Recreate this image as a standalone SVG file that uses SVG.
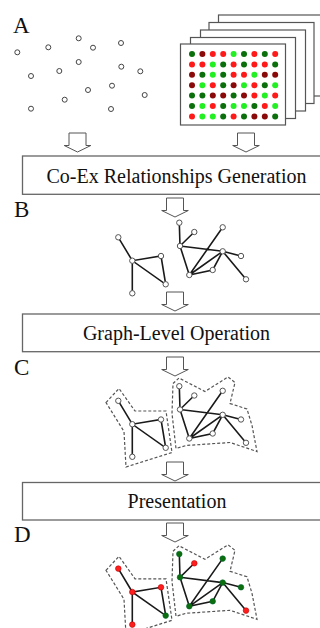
<svg xmlns="http://www.w3.org/2000/svg" xmlns:xlink="http://www.w3.org/1999/xlink" width="320" height="628" viewBox="0 0 320 628">
  <style>
    .label { font-family: "Liberation Serif", "Times New Roman", serif; font-size: 23px; fill: #111; }
    .boxtext { font-family: "Liberation Serif", "Times New Roman", serif; font-size: 20px; fill: #111; text-anchor: middle; }
    .box { fill: #fff; stroke: #666; stroke-width: 1.3; }
    .sheet { fill: #fff; stroke: #555; stroke-width: 1.2; }
    .gene { fill: #fff; stroke: #444; stroke-width: 1; }
    .arrow { fill: #fff; stroke: #555; stroke-width: 1; }
    .edge { fill: none; stroke: #1a1a1a; stroke-width: 1.6; stroke-linecap: round; }
    .node { fill: #fff; stroke: #555; stroke-width: 1; }
    .hull { fill: none; stroke: #555; stroke-width: 1.2; stroke-dasharray: 3 2; }
    .up { fill: #ff1e1e; stroke: #b00; stroke-width: 0.6; }
    .down { fill: #0c6e0c; stroke: #063; stroke-width: 0.6; }
    .dg { fill: #0b700b; } .dr { fill: #8a0a0a; } .r { fill: #ff1a1a; } .l { fill: #22f022; }
  </style>
  <defs>
    <!-- hollow block arrow, origin at top centre -->
    <path id="arrow" d="M-8.5,0 H8.5 V12.5 H13.3 L0,19 L-13.3,12.5 H-8.5 Z"/>
    <!-- co-expression graph edges -->
    <path id="graph-edges" d="M118.3,237.3 L132.3,260.7 L161,256 L165.7,284.3 L132.3,260.7 L132.3,293.3
      M179.3,222.7 L180,246 L194.3,232 M180,246 L222.7,251.3 M180,246 L189.3,275 L222.7,227.3
      M189.3,275 L222.7,251.3 L212.7,270 L189.3,275 M222.7,251.3 L241,256 M222.7,251.3 L246,279.3"/>
    <g id="graph-nodes">
      <circle cx="118.3" cy="237.3" r="2.7"/><circle cx="132.3" cy="260.7" r="2.7"/>
      <circle cx="161" cy="256" r="2.7"/><circle cx="165.7" cy="284.3" r="2.7"/>
      <circle cx="132.3" cy="293.3" r="2.7"/>
      <circle cx="179.3" cy="222.7" r="2.7"/><circle cx="194.3" cy="232" r="2.7"/>
      <circle cx="222.7" cy="227.3" r="2.7"/><circle cx="180" cy="246" r="2.7"/>
      <circle cx="222.7" cy="251.3" r="2.7"/><circle cx="241" cy="256" r="2.7"/>
      <circle cx="189.3" cy="275" r="2.7"/><circle cx="212.7" cy="270" r="2.7"/>
      <circle cx="246" cy="279.3" r="2.7"/>
    </g>
    <g id="hulls">
      <path d="M106,239 L119,225 L135,247.5 L166,247.5 L172,289 L126,303.5 L124,268 Z"/>
      <path d="M173,220 L179,214.5 L205,228 L228,213.5 L235,219 L230,240 L247,245.5 L252,262 L257,288 L230,279 L186,282 L176,285 L172,250 Z"/>
    </g>
  </defs>

  <!-- section labels -->
  <g id="labels">
    <text class="label" x="13" y="33">A</text>
    <text class="label" x="14" y="217">B</text>
    <text class="label" x="14" y="375">C</text>
    <text class="label" x="14" y="542">D</text>
  </g>

  <!-- genes -->
  <g id="genes" class="gene">
    <circle cx="17.3" cy="52.3" r="2.5"/><circle cx="48.3" cy="47.3" r="2.5"/>
    <circle cx="78.7" cy="38.3" r="2.5"/><circle cx="93" cy="47.7" r="2.5"/>
    <circle cx="121" cy="43" r="2.5"/><circle cx="78.7" cy="62" r="2.5"/>
    <circle cx="31" cy="76" r="2.5"/><circle cx="59.3" cy="71" r="2.5"/>
    <circle cx="121.3" cy="66.7" r="2.5"/><circle cx="140.3" cy="71.3" r="2.5"/>
    <circle cx="88" cy="90" r="2.5"/><circle cx="112" cy="85.7" r="2.5"/>
    <circle cx="64.7" cy="99.7" r="2.5"/><circle cx="144.7" cy="95" r="2.5"/>
    <circle cx="31" cy="108.7" r="2.5"/><circle cx="111" cy="109" r="2.5"/>
  </g>

  <!-- stack of expression arrays -->
  <g id="arrays">
    <rect class="sheet" x="218.5" y="15" width="105" height="81"/>
    <rect class="sheet" x="209" y="22.5" width="105" height="81"/>
    <rect class="sheet" x="200.5" y="30" width="105" height="81"/>
    <rect class="sheet" x="190.5" y="37.5" width="105" height="81"/>
    <rect class="sheet" x="180.5" y="44" width="105" height="81"/>
    <g id="spots">
      <!-- row 1 -->
      <circle class="dg" cx="192" cy="54" r="3"/><circle class="dr" cx="202.4" cy="54" r="3"/><circle class="r" cx="212.8" cy="54" r="3"/><circle class="r" cx="223.2" cy="54" r="3"/><circle class="l" cx="233.6" cy="54" r="3"/><circle class="dg" cx="244" cy="54" r="3"/><circle class="r" cx="254.4" cy="54" r="3"/><circle class="dg" cx="264.8" cy="54" r="3"/><circle class="r" cx="275.2" cy="54" r="3"/>
      <!-- row 2 -->
      <circle class="r" cx="192" cy="64.4" r="3"/><circle class="r" cx="202.4" cy="64.4" r="3"/><circle class="l" cx="212.8" cy="64.4" r="3"/><circle class="dg" cx="223.2" cy="64.4" r="3"/><circle class="r" cx="233.6" cy="64.4" r="3"/><circle class="dg" cx="244" cy="64.4" r="3"/><circle class="r" cx="254.4" cy="64.4" r="3"/><circle class="r" cx="264.8" cy="64.4" r="3"/><circle class="dg" cx="275.2" cy="64.4" r="3"/>
      <!-- row 3 -->
      <circle class="dr" cx="192" cy="74.8" r="3"/><circle class="dg" cx="202.4" cy="74.8" r="3"/><circle class="l" cx="212.8" cy="74.8" r="3"/><circle class="dg" cx="223.2" cy="74.8" r="3"/><circle class="r" cx="233.6" cy="74.8" r="3"/><circle class="r" cx="244" cy="74.8" r="3"/><circle class="l" cx="254.4" cy="74.8" r="3"/><circle class="dr" cx="264.8" cy="74.8" r="3"/><circle class="dr" cx="275.2" cy="74.8" r="3"/>
      <!-- row 4 -->
      <circle class="dr" cx="192" cy="85.2" r="3"/><circle class="l" cx="202.4" cy="85.2" r="3"/><circle class="r" cx="212.8" cy="85.2" r="3"/><circle class="dg" cx="223.2" cy="85.2" r="3"/><circle class="dr" cx="233.6" cy="85.2" r="3"/><circle class="l" cx="244" cy="85.2" r="3"/><circle class="r" cx="254.4" cy="85.2" r="3"/><circle class="dg" cx="264.8" cy="85.2" r="3"/><circle class="l" cx="275.2" cy="85.2" r="3"/>
      <!-- row 5 -->
      <circle class="dg" cx="192" cy="95.6" r="3"/><circle class="dg" cx="202.4" cy="95.6" r="3"/><circle class="dr" cx="212.8" cy="95.6" r="3"/><circle class="dr" cx="223.2" cy="95.6" r="3"/><circle class="dg" cx="233.6" cy="95.6" r="3"/><circle class="dr" cx="244" cy="95.6" r="3"/><circle class="r" cx="254.4" cy="95.6" r="3"/><circle class="l" cx="264.8" cy="95.6" r="3"/><circle class="r" cx="275.2" cy="95.6" r="3"/>
      <!-- row 6 -->
      <circle class="dg" cx="192" cy="106" r="3"/><circle class="l" cx="202.4" cy="106" r="3"/><circle class="r" cx="212.8" cy="106" r="3"/><circle class="dg" cx="223.2" cy="106" r="3"/><circle class="l" cx="233.6" cy="106" r="3"/><circle class="l" cx="244" cy="106" r="3"/><circle class="dg" cx="254.4" cy="106" r="3"/><circle class="r" cx="264.8" cy="106" r="3"/><circle class="l" cx="275.2" cy="106" r="3"/>
      <!-- row 7 -->
      <circle class="r" cx="192" cy="116.4" r="3"/><circle class="l" cx="202.4" cy="116.4" r="3"/><circle class="l" cx="212.8" cy="116.4" r="3"/><circle class="dg" cx="223.2" cy="116.4" r="3"/><circle class="r" cx="233.6" cy="116.4" r="3"/><circle class="dg" cx="244" cy="116.4" r="3"/><circle class="dr" cx="254.4" cy="116.4" r="3"/><circle class="dr" cx="264.8" cy="116.4" r="3"/><circle class="dg" cx="275.2" cy="116.4" r="3"/>
    </g>
  </g>

  <!-- process steps -->
  <g id="step-coex">
    <rect class="box" x="22.5" y="156" width="302" height="38.3"/>
    <text class="boxtext" x="176.5" y="182.5">Co-Ex Relationships Generation</text>
  </g>
  <g id="step-graph">
    <rect class="box" x="22.5" y="314" width="302" height="37.7"/>
    <text class="boxtext" x="176.5" y="340">Graph-Level Operation</text>
  </g>
  <g id="step-present">
    <rect class="box" x="22.5" y="482.5" width="302" height="37.5"/>
    <text class="boxtext" x="177" y="508">Presentation</text>
  </g>

  <!-- co-expression network -->
  <g id="network">
    <use href="#graph-edges" class="edge"/>
    <use href="#graph-nodes" class="node"/>
  </g>

  <!-- network split into subgraphs -->
  <g id="subgraphs" transform="translate(0,163.5)">
    <use href="#hulls" class="hull"/>
    <use href="#graph-edges" class="edge"/>
    <use href="#graph-nodes" class="node"/>
  </g>

  <!-- subgraphs coloured by expression -->
  <g id="presented" transform="translate(0,331.3)">
    <use href="#hulls" class="hull"/>
    <use href="#graph-edges" class="edge"/>
    <circle class="up" cx="118.3" cy="237.3" r="2.8"/><circle class="up" cx="132.3" cy="260.7" r="2.8"/>
    <circle class="up" cx="161" cy="256" r="2.8"/><circle class="down" cx="165.7" cy="284.3" r="2.8"/>
    <circle class="up" cx="132.3" cy="293.3" r="2.8"/>
    <circle class="down" cx="179.3" cy="222.7" r="2.8"/><circle class="up" cx="194.3" cy="232" r="2.8"/>
    <circle class="down" cx="222.7" cy="227.3" r="2.8"/><circle class="down" cx="180" cy="246" r="2.8"/>
    <circle class="down" cx="222.7" cy="251.3" r="2.8"/><circle class="down" cx="241" cy="256" r="2.8"/>
    <circle class="down" cx="189.3" cy="275" r="2.8"/><circle class="down" cx="212.7" cy="270" r="2.8"/>
    <circle class="up" cx="246" cy="279.3" r="2.8"/>
  </g>

  <!-- flow arrows -->
  <g id="connectors" class="arrow">
    <use href="#arrow" x="77.5" y="133"/>
    <use href="#arrow" x="246" y="133"/>
    <use href="#arrow" x="175" y="198"/>
    <use href="#arrow" x="175" y="292"/>
    <use href="#arrow" x="175" y="357"/>
    <use href="#arrow" x="175" y="462"/>
    <use href="#arrow" x="175" y="523"/>
  </g>
</svg>
